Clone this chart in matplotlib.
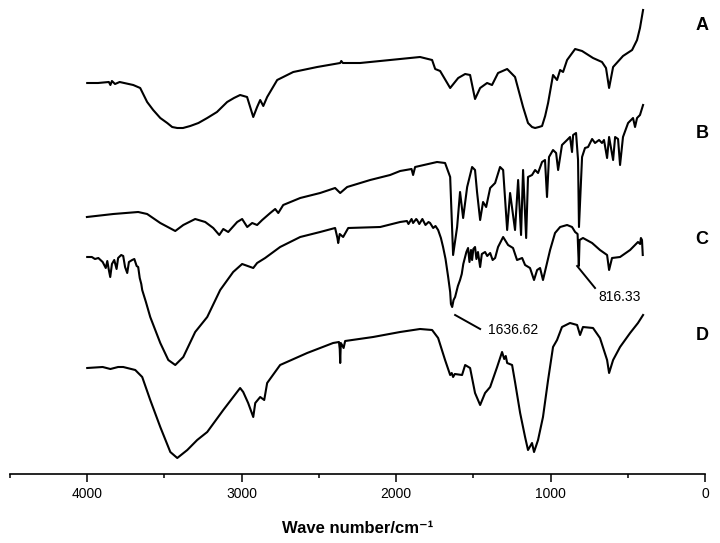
import matplotlib
matplotlib.use('Agg')
import matplotlib.pyplot as plt

plt.rcParams['font.family'] = ['Liberation Sans', 'DejaVu Sans']

# FTIR spectra, wavenumber (cm-1) and relative transmittance (arbitrary units, stacked)
wn_a = [4000, 3930, 3860, 3850, 3840, 3820, 3790, 3702, 3657, 3612, 3573, 3527, 3482, 3450, 3417,
        3380, 3333, 3280, 3223, 3160, 3094, 3050, 3010, 2965, 2925, 2900, 2880, 2860, 2835, 2770,
        2666, 2511, 2362, 2355, 2345, 2233, 1974, 1845, 1767, 1747, 1715, 1650, 1598, 1553, 1521,
        1489, 1456, 1411, 1379, 1340, 1281, 1230, 1178, 1160, 1146, 1120, 1100, 1075, 1055, 1035,
        1016, 1000, 984, 958, 938, 919, 893, 841, 796, 725, 667, 641, 621, 595, 531, 472, 440,
        421, 401]
t_a = [391, 391, 392, 389, 393, 390, 392, 389, 386, 372, 364, 356, 351, 347, 346,
       346, 348, 351, 356, 362, 372, 376, 379, 377, 357, 367, 374, 368, 377, 394,
       402, 407, 411, 413, 411, 411, 415, 417, 414, 405, 403, 386, 396, 400, 399,
       375, 386, 391, 389, 401, 405, 397, 367, 358, 351, 347, 346, 347, 348, 358,
       371, 385, 399, 394, 404, 402, 414, 425, 423, 416, 412, 406, 386, 407, 418, 424, 434,
       446, 464]

wn_b = [4002, 3831, 3670, 3612, 3527, 3430, 3378, 3301, 3236, 3184, 3145, 3119, 3087, 3029, 2997,
        2964, 2932, 2900, 2867, 2815, 2783, 2763, 2731, 2621, 2492, 2395, 2362, 2317, 2168, 2039,
        1974, 1900, 1890, 1877, 1735, 1683, 1650, 1631, 1605, 1586, 1566, 1540, 1508, 1489, 1476,
        1456, 1437, 1417, 1391, 1359, 1327, 1307, 1281, 1262, 1230, 1210, 1191, 1178, 1158, 1146,
        1120, 1100, 1081, 1055, 1036, 1023, 1010, 984, 964, 951, 926, 893, 874, 861, 854, 835,
        822, 816, 796, 777, 757, 731, 712, 686, 667, 654, 634, 621, 595, 582, 563, 550, 531, 498,
        466, 453, 440, 421, 401]
t_b = [257, 260, 262, 260, 251, 243, 249, 255, 252, 246, 239, 245, 242, 252, 255,
       247, 251, 249, 254, 261, 265, 261, 269, 276, 281, 286, 281, 287, 294, 299,
       303, 305, 299, 307, 312, 311, 297, 219, 247, 282, 256, 287, 307, 304, 282,
       254, 272, 267, 286, 291, 307, 304, 244, 281, 244, 294, 239, 304, 236, 297,
       299, 304, 301, 312, 314, 277, 317, 324, 321, 304, 329, 334, 337, 322, 339, 341,
       314, 247, 317, 326, 327, 335, 331, 334, 331, 334, 316, 337, 314, 337, 335, 309, 337, 351,
       356, 347, 356, 359, 369]

wn_c = [4000, 3970, 3950, 3928, 3900, 3880, 3870, 3860, 3851, 3840, 3825, 3810, 3800, 3780, 3767,
        3755, 3741, 3730, 3709, 3695, 3680, 3670, 3660, 3650, 3644, 3620, 3592, 3527, 3475, 3430,
        3378, 3301, 3223, 3139, 3055, 2997, 2925, 2900, 2848, 2751, 2621, 2492, 2395, 2380, 2375,
        2365, 2343, 2310, 2103, 1974, 1930, 1920, 1900, 1890, 1870, 1864, 1850, 1830, 1810, 1790,
        1780, 1760, 1745, 1728, 1710, 1696, 1680, 1663, 1650, 1645, 1637, 1628, 1618, 1600, 1586,
        1575, 1565, 1553, 1545, 1534, 1525, 1515, 1508, 1500, 1489, 1480, 1470, 1456, 1445, 1424,
        1410, 1391, 1375, 1359, 1340, 1307, 1275, 1243, 1217, 1184, 1165, 1133, 1107, 1087, 1068,
        1049, 1029, 1003, 971, 938, 893, 861, 841, 825, 817, 812, 790, 731, 680, 634, 621, 602,
        550, 485, 434, 420, 415, 408, 403]
t_c = [217, 217, 215, 216, 212, 206, 213, 204, 197, 210, 214, 205, 216, 219, 218,
       207, 201, 212, 214, 215, 208, 207, 196, 190, 184, 172, 157, 131, 114, 109,
       117, 142, 157, 184, 202, 210, 206, 211, 216, 227, 237, 242, 246, 236, 231,
       240, 237, 246, 247, 252, 253, 250, 255, 251, 255, 254, 250, 255, 249, 252,
       251, 246, 248, 244, 236, 227, 215, 197, 182, 170, 167, 174, 177, 188, 194,
       200, 210, 217, 222, 226, 212, 224, 214, 225, 227, 215, 222, 207, 220, 222,
       218, 221, 214, 216, 227, 237, 229, 226, 214, 216, 209, 206, 194, 204, 206,
       194, 207, 224, 241, 247, 249, 247, 242, 240, 208, 234, 236, 231, 224, 219, 204, 216,
       217, 224, 232, 230, 236, 234, 219]

wn_d = [4000, 3900, 3850, 3800, 3767, 3689, 3644, 3592, 3527, 3462, 3417, 3352, 3288, 3223, 3119,
        3010, 2990, 2958, 2925, 2912, 2880, 2854, 2835, 2751, 2576, 2408, 2370, 2365, 2362, 2358,
        2350, 2340, 2330, 2149, 1974, 1845, 1767, 1728, 1683, 1650, 1640, 1631, 1620, 1573, 1553,
        1521, 1489, 1456, 1424, 1391, 1346, 1314, 1300, 1290, 1281, 1249, 1230, 1197, 1165, 1146,
        1120, 1107, 1081, 1049, 1016, 984, 958, 926, 874, 828, 809, 790, 725, 680, 634, 621, 595,
        550, 485, 434, 401]
t_d = [106, 107, 105, 107, 107, 104, 97, 74, 47, 22, 16, 24, 34, 42, 64,
       86, 82, 71, 57, 71, 77, 74, 91, 109, 121, 131, 132, 125, 111, 131,
       129, 126, 133, 137, 142, 145, 144, 136, 114, 99, 101, 97, 100, 99, 109,
       106, 81, 69, 81, 87, 107, 122, 115, 118, 111, 109, 92, 61, 37, 24,
       31, 22, 34, 57, 94, 127, 134, 147, 151, 149, 139, 147, 146, 136, 114, 101, 114,
       127, 141, 151, 159]

names = ['A', 'B', 'C', 'D']
name_y = [449, 341, 235, 138]

fig = plt.figure(figsize=(7.2, 5.43), dpi=100)
ax = fig.add_axes([10 / 720, 69 / 543, 695 / 720, 474 / 543])

for wn, t in [(wn_a, t_a), (wn_b, t_b), (wn_c, t_c), (wn_d, t_d)]:
    ax.plot(wn, t, color='black', lw=1.5, solid_joinstyle='round')

# peak labels on curve C
ax.plot([1618, 1456], [159, 145], color='black', lw=1.4)
ax.text(1404, 144, '1636.62', fontsize=10, ha='left', va='center')
ax.plot([828, 712], [208, 186], color='black', lw=1.4)
ax.text(692, 177, '816.33', fontsize=10, ha='left', va='center')

for n, y in zip(names, name_y):
    ax.text(19, y, n, fontsize=13, fontweight='bold', ha='center', va='center', clip_on=False)

ax.set_xlim(4500, 0)
ax.set_ylim(0, 474)
ax.set_xticks([4000, 3000, 2000, 1000, 0])
ax.set_xticks([4500, 3500, 2500, 1500, 500], minor=True)
ax.tick_params(axis='x', which='major', length=6, width=1.1, labelsize=10)
ax.tick_params(axis='x', which='minor', length=3, width=1.1)
ax.set_yticks([])
for s in ['top', 'right', 'left']:
    ax.spines[s].set_visible(False)
ax.spines['bottom'].set_linewidth(1.2)
ax.set_xlabel('Wave number/cm⁻¹', fontsize=12, fontweight='bold', labelpad=14)

plt.savefig('out.png')
